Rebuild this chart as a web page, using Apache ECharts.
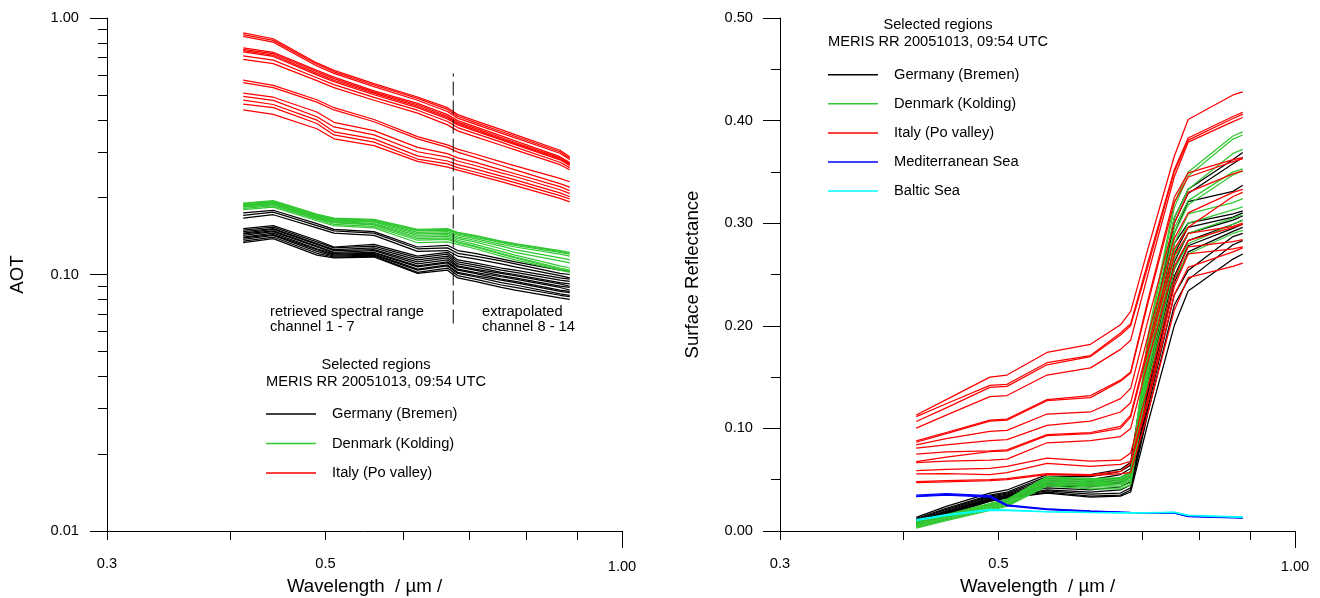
<!DOCTYPE html>
<html><head><meta charset="utf-8">
<script src="https://cdn.jsdelivr.net/npm/echarts@6/dist/echarts.min.js"></script>
<style>html,body{margin:0;padding:0;background:#fff}#c{width:1320px;height:598px}</style>
</head><body><div id="c"></div>
<script>
// MERIS channel centre wavelengths (µm), channels 1-14 without the O2 band
const wavelengths = [0.4125, 0.4425, 0.49, 0.51, 0.56, 0.62, 0.665, 0.681, 0.709, 0.754, 0.779, 0.865, 0.885];

const xTickValues = [0.3, 0.4, 0.5, 0.6, 0.7, 0.8, 0.9];
const xLabelValues = [0.3, 0.5];
const xEndValues = [1.0];
const aotMajorTicks = [0.01, 0.1, 1];
const aotMinorTicks = [0.02,0.03,0.04,0.05,0.06,0.07,0.08,0.09,0.2,0.3,0.4,0.5,0.6,0.7,0.8,0.9];
const dividerWavelength = 0.674;
const dividerRange = [0.0644, 0.608];

const regionNames = ['Germany (Bremen)', 'Denmark (Kolding)', 'Italy (Po valley)', 'Mediterranean Sea', 'Baltic Sea'];
const regionColors = ['#000000', '#33c833', '#ff0000', '#0000ff', '#00ffff'];

// AOT spectra
const aotGermany = [
  [0.174,0.178,0.158,0.150,0.147,0.128,0.130,0.124,0.121,0.115,0.112,0.104,0.103],
  [0.170,0.175,0.155,0.148,0.145,0.126,0.127,0.121,0.118,0.113,0.110,0.101,0.100],
  [0.166,0.171,0.152,0.145,0.142,0.123,0.124,0.118,0.115,0.110,0.107,0.099,0.097],
  [0.151,0.155,0.136,0.128,0.131,0.118,0.122,0.114,0.111,0.106,0.104,0.097,0.096],
  [0.149,0.153,0.134,0.127,0.129,0.116,0.120,0.112,0.109,0.104,0.102,0.095,0.094],
  [0.147,0.151,0.132,0.125,0.127,0.114,0.118,0.110,0.107,0.102,0.100,0.093,0.092],
  [0.145,0.150,0.131,0.124,0.125,0.112,0.116,0.108,0.105,0.101,0.099,0.092,0.090],
  [0.144,0.148,0.129,0.122,0.124,0.110,0.114,0.107,0.104,0.099,0.097,0.090,0.089],
  [0.142,0.147,0.128,0.121,0.122,0.108,0.112,0.105,0.102,0.098,0.096,0.089,0.087],
  [0.140,0.145,0.126,0.120,0.121,0.107,0.111,0.104,0.101,0.096,0.094,0.087,0.086],
  [0.139,0.143,0.125,0.119,0.120,0.105,0.109,0.102,0.099,0.095,0.093,0.086,0.085],
  [0.137,0.142,0.123,0.118,0.119,0.104,0.108,0.101,0.098,0.093,0.091,0.084,0.083],
  [0.135,0.140,0.121,0.117,0.118,0.102,0.106,0.099,0.096,0.091,0.089,0.083,0.082],
  [0.133,0.138,0.119,0.116,0.117,0.101,0.104,0.097,0.094,0.089,0.087,0.081,0.080]
];
const aotDenmark = [
  [0.190,0.194,0.172,0.166,0.164,0.150,0.151,0.146,0.142,0.135,0.132,0.124,0.122],
  [0.189,0.193,0.171,0.165,0.163,0.149,0.150,0.145,0.141,0.134,0.131,0.123,0.121],
  [0.188,0.192,0.170,0.164,0.162,0.148,0.149,0.144,0.140,0.133,0.130,0.122,0.120],
  [0.187,0.191,0.169,0.163,0.161,0.146,0.147,0.142,0.138,0.131,0.128,0.120,0.118],
  [0.186,0.190,0.168,0.162,0.160,0.144,0.145,0.140,0.136,0.129,0.125,0.116,0.114],
  [0.185,0.189,0.167,0.161,0.158,0.142,0.143,0.138,0.134,0.126,0.122,0.113,0.111],
  [0.184,0.188,0.166,0.160,0.157,0.140,0.141,0.136,0.131,0.123,0.119,0.108,0.106],
  [0.183,0.187,0.165,0.159,0.156,0.138,0.139,0.134,0.129,0.121,0.117,0.106,0.104],
  [0.181,0.185,0.164,0.157,0.154,0.136,0.137,0.133,0.128,0.120,0.116,0.105,0.103],
  [0.179,0.183,0.162,0.155,0.152,0.133,0.134,0.131,0.126,0.118,0.114,0.104,0.102]
];
const aotItaly = [
  [0.875,0.830,0.668,0.625,0.555,0.492,0.447,0.420,0.398,0.367,0.351,0.305,0.288],
  [0.862,0.818,0.660,0.617,0.548,0.486,0.440,0.414,0.392,0.361,0.346,0.301,0.284],
  [0.848,0.805,0.650,0.608,0.540,0.478,0.432,0.407,0.386,0.356,0.341,0.297,0.281],
  [0.765,0.735,0.625,0.588,0.520,0.465,0.420,0.398,0.377,0.347,0.332,0.288,0.273],
  [0.755,0.726,0.617,0.580,0.514,0.459,0.414,0.392,0.372,0.342,0.327,0.285,0.270],
  [0.746,0.716,0.608,0.572,0.508,0.453,0.409,0.388,0.367,0.338,0.324,0.282,0.268],
  [0.738,0.708,0.600,0.565,0.502,0.447,0.404,0.383,0.363,0.335,0.321,0.280,0.266],
  [0.712,0.685,0.585,0.550,0.490,0.437,0.395,0.374,0.355,0.328,0.314,0.274,0.261],
  [0.690,0.664,0.570,0.535,0.478,0.426,0.383,0.363,0.345,0.319,0.306,0.268,0.256],
  [0.572,0.546,0.480,0.447,0.402,0.345,0.320,0.308,0.295,0.275,0.265,0.237,0.230],
  [0.560,0.535,0.470,0.438,0.394,0.338,0.313,0.300,0.286,0.266,0.256,0.226,0.219],
  [0.510,0.491,0.430,0.392,0.364,0.313,0.296,0.285,0.274,0.256,0.247,0.220,0.212],
  [0.495,0.477,0.412,0.376,0.350,0.301,0.287,0.277,0.266,0.249,0.241,0.214,0.207],
  [0.478,0.460,0.400,0.360,0.338,0.290,0.277,0.268,0.258,0.242,0.234,0.208,0.201],
  [0.462,0.447,0.388,0.350,0.328,0.282,0.270,0.261,0.251,0.236,0.228,0.203,0.197],
  [0.438,0.421,0.370,0.338,0.318,0.276,0.262,0.255,0.245,0.230,0.222,0.198,0.192]
];

// Surface reflectance spectra
const refGermany = [
  [0.0133,0.024,0.037,0.040,0.055,0.055,0.060,0.067,0.175,0.305,0.333,0.362,0.369],
  [0.0122,0.022,0.035,0.038,0.053,0.053,0.058,0.064,0.170,0.300,0.329,0.358,0.364],
  [0.0112,0.021,0.034,0.037,0.051,0.050,0.055,0.061,0.160,0.290,0.321,0.331,0.337],
  [0.0105,0.020,0.033,0.036,0.049,0.048,0.052,0.058,0.150,0.280,0.300,0.309,0.312],
  [0.0098,0.019,0.032,0.035,0.047,0.046,0.050,0.055,0.145,0.270,0.296,0.306,0.310],
  [0.0092,0.019,0.031,0.034,0.045,0.044,0.048,0.053,0.140,0.262,0.290,0.303,0.307],
  [0.0088,0.018,0.031,0.034,0.044,0.043,0.047,0.052,0.135,0.255,0.283,0.299,0.303],
  [0.0082,0.018,0.030,0.034,0.042,0.040,0.043,0.048,0.130,0.248,0.278,0.295,0.299],
  [0.0078,0.017,0.030,0.033,0.040,0.038,0.040,0.045,0.125,0.242,0.272,0.292,0.296],
  [0.0072,0.017,0.030,0.033,0.039,0.036,0.037,0.042,0.120,0.230,0.254,0.287,0.290],
  [0.0066,0.016,0.029,0.032,0.038,0.034,0.035,0.040,0.115,0.220,0.245,0.279,0.283],
  [0.0060,0.016,0.029,0.032,0.037,0.033,0.034,0.038,0.105,0.200,0.234,0.265,0.270]
];
const refDenmark = [
  [0.0090,0.016,0.027,0.031,0.053,0.051,0.052,0.058,0.190,0.320,0.350,0.385,0.389],
  [0.0085,0.015,0.026,0.030,0.052,0.050,0.051,0.057,0.185,0.315,0.346,0.382,0.386],
  [0.0078,0.015,0.026,0.030,0.051,0.049,0.050,0.056,0.180,0.305,0.333,0.368,0.372],
  [0.0070,0.014,0.025,0.029,0.050,0.048,0.049,0.055,0.175,0.295,0.322,0.350,0.353],
  [0.0065,0.014,0.025,0.029,0.049,0.047,0.048,0.053,0.170,0.290,0.318,0.347,0.351],
  [0.0058,0.013,0.024,0.028,0.048,0.046,0.047,0.052,0.165,0.280,0.309,0.320,0.324],
  [0.0050,0.012,0.023,0.027,0.047,0.045,0.046,0.050,0.160,0.272,0.300,0.313,0.316],
  [0.0042,0.011,0.022,0.026,0.046,0.044,0.045,0.049,0.155,0.265,0.290,0.305,0.308],
  [0.0035,0.011,0.021,0.025,0.045,0.043,0.043,0.047,0.150,0.255,0.280,0.299,0.303],
  [0.0028,0.010,0.020,0.024,0.044,0.041,0.041,0.045,0.145,0.245,0.270,0.290,0.293]
];
const refItaly = [
  [0.1130,0.128,0.150,0.152,0.174,0.182,0.201,0.214,0.275,0.365,0.401,0.425,0.428],
  [0.1115,0.124,0.142,0.143,0.164,0.171,0.193,0.202,0.262,0.352,0.383,0.404,0.408],
  [0.1067,0.120,0.140,0.141,0.162,0.170,0.191,0.200,0.258,0.350,0.381,0.402,0.406],
  [0.1002,0.113,0.131,0.132,0.152,0.159,0.177,0.186,0.250,0.345,0.379,0.399,0.403],
  [0.0878,0.096,0.108,0.109,0.128,0.132,0.147,0.155,0.225,0.325,0.349,0.362,0.364],
  [0.0865,0.095,0.107,0.108,0.127,0.130,0.146,0.154,0.222,0.320,0.345,0.360,0.363],
  [0.0840,0.090,0.097,0.098,0.114,0.116,0.129,0.139,0.205,0.300,0.330,0.348,0.351],
  [0.0807,0.084,0.088,0.089,0.103,0.107,0.116,0.125,0.190,0.285,0.310,0.330,0.333],
  [0.0750,0.077,0.078,0.079,0.094,0.096,0.102,0.113,0.180,0.275,0.296,0.326,0.330],
  [0.0676,0.072,0.0774,0.078,0.093,0.095,0.100,0.111,0.175,0.268,0.290,0.297,0.300],
  [0.0667,0.068,0.069,0.070,0.086,0.088,0.092,0.100,0.165,0.258,0.283,0.296,0.299],
  [0.0589,0.060,0.061,0.063,0.071,0.068,0.069,0.076,0.140,0.245,0.277,0.282,0.284],
  [0.0556,0.056,0.055,0.057,0.066,0.063,0.065,0.068,0.130,0.238,0.270,0.275,0.277],
  [0.0481,0.049,0.050,0.051,0.056,0.055,0.058,0.066,0.125,0.230,0.257,0.272,0.276],
  [0.0472,0.048,0.049,0.050,0.055,0.054,0.056,0.057,0.115,0.215,0.247,0.258,0.261]
];
const refMediterranean = [
  [0.0350,0.0365,0.0345,0.0255,0.0215,0.0195,0.0185,0.0182,0.0180,0.0178,0.0145,0.0135,0.0132],
  [0.0340,0.0358,0.0338,0.0250,0.0212,0.0192,0.0183,0.0180,0.0178,0.0176,0.0143,0.0132,0.0129],
  [0.0335,0.0350,0.0330,0.0245,0.0208,0.0190,0.0181,0.0178,0.0176,0.0174,0.0140,0.0128,0.0125]
];
const refBaltic = [
  [0.0110,0.0160,0.0210,0.0205,0.0190,0.0182,0.0178,0.0178,0.0180,0.0185,0.0155,0.0140,0.0137],
  [0.0100,0.0150,0.0200,0.0198,0.0186,0.0178,0.0175,0.0175,0.0177,0.0182,0.0150,0.0136,0.0133]
];

const FONT = 'Liberation Sans';
const chart = echarts.init(document.getElementById('c'), null, {renderer: 'canvas'});

function makeSeries(lines, regionIdx, panel) {
  const color = regionColors[regionIdx];
  return lines.map(vals => ({
    type: 'line', name: regionNames[regionIdx],
    xAxisIndex: panel === 0 ? 0 : 2, yAxisIndex: panel === 0 ? 0 : 2,
    data: vals.map((v, i) => [wavelengths[i], v]),
    symbol: 'none', silent: true, animation: false,
    lineStyle: {color: color, width: 1.25}, itemStyle: {color: color}
  }));
}

const series = [].concat(
  makeSeries(aotGermany, 0, 0), makeSeries(aotDenmark, 1, 0), makeSeries(aotItaly, 2, 0),
  makeSeries(refGermany, 0, 1), makeSeries(refDenmark, 1, 1), makeSeries(refItaly, 2, 1),
  makeSeries(refMediterranean, 3, 1), makeSeries(refBaltic, 4, 1),
  [{
    type: 'line', name: 'divider', xAxisIndex: 0, yAxisIndex: 0, symbol: 'none', silent: true, animation: false,
    data: [[dividerWavelength, dividerRange[0]], [dividerWavelength, dividerRange[1]]],
    lineStyle: {color: '#000', width: 1, type: [14, 5]}
  }]
);

const lbl = {color: '#000', fontFamily: FONT, fontSize: 14.67};
const axLine = {show: true, lineStyle: {color: '#000', width: 1}};

function xMain(gridIndex) {
  return {
    type: 'log', logBase: 10, gridIndex, min: 0.3, max: 1.0, position: 'bottom',
    axisLine: axLine, splitLine: {show: false},
    axisTick: {show: true, customValues: xTickValues, length: 9, lineStyle: {color: '#000'}},
    axisLabel: Object.assign({show: true, customValues: xLabelValues, margin: 25.5,
      formatter: v => (Math.round(v * 10) / 10).toFixed(1)}, lbl),
    name: 'Wavelength  / µm /', nameLocation: 'middle', nameGap: 46,
    nameTextStyle: {color: '#000', fontFamily: FONT, fontSize: 18.67}
  };
}
function xEnd(gridIndex) {
  return {
    type: 'log', logBase: 10, gridIndex, min: 0.3, max: 1.0, position: 'bottom',
    axisLine: {show: false}, splitLine: {show: false},
    axisTick: {show: true, customValues: xEndValues, length: 17, lineStyle: {color: '#000'}},
    axisLabel: Object.assign({show: true, customValues: xEndValues, margin: 28,
      formatter: v => v.toFixed(2)}, lbl)
  };
}

function legendOf(names, left, top, gap) {
  return {
    data: names, orient: 'vertical', left: left, top: top, padding: 0,
    icon: 'rect', itemWidth: 50, itemHeight: 1.5, itemGap: gap, selectedMode: false,
    textStyle: {color: '#000', fontFamily: FONT, fontSize: 14.67, padding: [0, 0, 0, 11]}
  };
}

const option = {
  animation: false,
  backgroundColor: '#fff',
  textStyle: {fontFamily: FONT},
  grid: [
    {left: 107, top: 18, width: 515, height: 513, containLabel: false, outerBoundsMode: 'none'},
    {left: 780, top: 18, width: 515, height: 513, containLabel: false, outerBoundsMode: 'none'}
  ],
  xAxis: [xMain(0), xEnd(0), xMain(1), xEnd(1)],
  yAxis: [
    {
      type: 'log', logBase: 10, gridIndex: 0, min: 0.01, max: 1, position: 'left',
      axisLine: axLine, splitLine: {show: false},
      axisTick: {show: true, customValues: aotMajorTicks, length: 17, lineStyle: {color: '#000'}},
      axisLabel: Object.assign({show: true, customValues: aotMajorTicks, margin: 28,
        formatter: v => v.toFixed(2)}, lbl),
      name: 'AOT', nameLocation: 'middle', nameGap: 80,
      nameTextStyle: {color: '#000', fontFamily: FONT, fontSize: 18.67}
    },
    {
      type: 'log', logBase: 10, gridIndex: 0, min: 0.01, max: 1, position: 'left',
      axisLine: {show: false}, splitLine: {show: false},
      axisTick: {show: true, customValues: aotMinorTicks, length: 9, lineStyle: {color: '#000'}},
      axisLabel: {show: false}
    },
    {
      type: 'value', gridIndex: 1, min: 0, max: 0.5, interval: 0.1, position: 'left',
      axisLine: axLine, splitLine: {show: false},
      axisTick: {show: true, length: 17, lineStyle: {color: '#000'}},
      minorTick: {show: true, splitNumber: 2, length: 9, lineStyle: {color: '#000'}},
      minorSplitLine: {show: false},
      axisLabel: Object.assign({show: true, margin: 27, formatter: v => v.toFixed(2)}, lbl),
      name: 'Surface Reflectance', nameLocation: 'middle', nameGap: 78,
      nameTextStyle: {color: '#000', fontFamily: FONT, fontSize: 18.67}
    }
  ],
  legend: [
    legendOf(regionNames.slice(0, 3), 266, 406.5, 14.5),
    legendOf(regionNames, 828, 67.2, 14.1)
  ],
  graphic: [
    {type: 'text', x: 376, y: 365, style: {text: 'Selected regions', fill: '#000', font: '14.67px "Liberation Sans"', align: 'center', verticalAlign: 'middle'}},
    {type: 'text', x: 376, y: 381.5, style: {text: 'MERIS RR 20051013, 09:54 UTC', fill: '#000', font: '14.67px "Liberation Sans"', align: 'center', verticalAlign: 'middle'}},
    {type: 'text', x: 938, y: 25, style: {text: 'Selected regions', fill: '#000', font: '14.67px "Liberation Sans"', align: 'center', verticalAlign: 'middle'}},
    {type: 'text', x: 938, y: 42, style: {text: 'MERIS RR 20051013, 09:54 UTC', fill: '#000', font: '14.67px "Liberation Sans"', align: 'center', verticalAlign: 'middle'}},
    {type: 'text', x: 270, y: 311.5, style: {text: 'retrieved spectral range', fill: '#000', font: '14.67px "Liberation Sans"', align: 'left', verticalAlign: 'middle'}},
    {type: 'text', x: 270, y: 327, style: {text: 'channel 1 - 7', fill: '#000', font: '14.67px "Liberation Sans"', align: 'left', verticalAlign: 'middle'}},
    {type: 'text', x: 482, y: 311.5, style: {text: 'extrapolated', fill: '#000', font: '14.67px "Liberation Sans"', align: 'left', verticalAlign: 'middle'}},
    {type: 'text', x: 482, y: 327, style: {text: 'channel 8 - 14', fill: '#000', font: '14.67px "Liberation Sans"', align: 'left', verticalAlign: 'middle'}}
  ],
  series: series
};
chart.setOption(option);
</script>
</body></html>
